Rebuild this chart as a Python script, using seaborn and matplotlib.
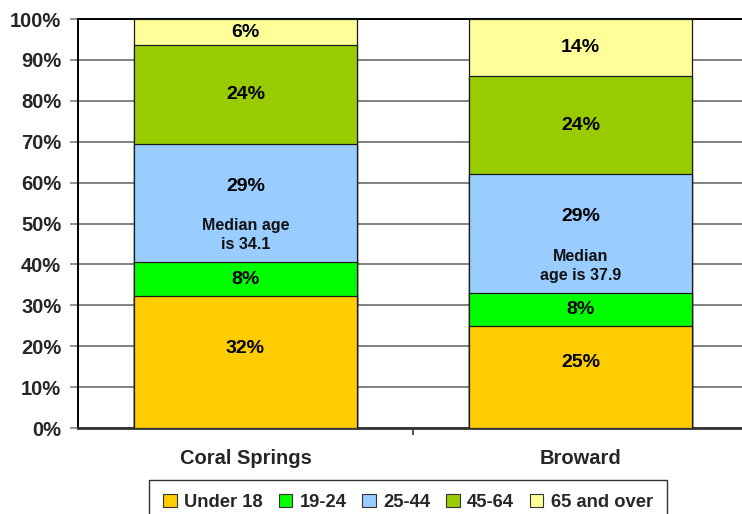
import numpy as np
import pandas as pd
import seaborn as sns
import matplotlib.pyplot as plt
from matplotlib.patches import Patch

REGIONS = ["Coral Springs", "Broward"]
AGE_GROUPS = ["Under 18", "19-24", "25-44", "45-64", "65 and over"]
CORAL_SPRINGS = [32.2, 8.3, 29.0, 24.1, 6.4]
BROWARD = [25.0, 7.9, 29.1, 24.0, 14.0]
MEDIAN_NOTES = ["Median age\nis 34.1", "Median\nage is 37.9"]
COLORS = ["#FFCC00", "#00FF00", "#99CCFF", "#99CC00", "#FFFF99"]

df = pd.DataFrame({"region": REGIONS})
for i, g in enumerate(AGE_GROUPS):
    df[g] = [CORAL_SPRINGS[i], BROWARD[i]]
cum = df[AGE_GROUPS].cumsum(axis=1)

sns.set_theme(style="white")
plt.rcParams["font.family"] = ["Liberation Sans", "DejaVu Sans"]
plt.rcParams["font.weight"] = "bold"

fig = plt.figure(figsize=(7.42, 5.14), dpi=100)
ax = fig.add_axes([0.1051, 0.1673, 0.903, 0.7957])

# stack by drawing cumulative totals from the top down
for i in range(len(AGE_GROUPS) - 1, -1, -1):
    sns.barplot(data=cum.assign(region=df["region"]), x="region", y=AGE_GROUPS[i],
                color=COLORS[i], saturation=1, edgecolor="#1a1a1a", linewidth=0.9,
                width=0.667, errorbar=None, ax=ax, zorder=3)

ax.set_xlim(-0.5, 1.5)
ax.set_ylim(0, 100)
ax.set_yticks(np.arange(0, 101, 10))
ax.set_yticklabels([f"{t}%" for t in range(0, 101, 10)], fontsize=14.5, fontweight="bold")
ax.set_xticks([0, 1])
ax.set_xticklabels(REGIONS, fontsize=14.5, fontweight="bold")
ax.set_xticks([0.5], minor=True)
ax.tick_params(axis="x", which="major", length=0, pad=15)
ax.tick_params(axis="x", which="minor", length=5, width=1.2, color="#333333", direction="out", bottom=True)
ax.tick_params(axis="y", length=6, width=1.2, color="#808080", direction="out", pad=6, left=True)
ax.set_xlabel("")
ax.set_ylabel("")
ax.yaxis.grid(True, color="#777777", linewidth=1.3, zorder=0)
ax.set_axisbelow(True)
for s in ["left", "bottom", "top", "right"]:
    ax.spines[s].set_color("black")
    ax.spines[s].set_linewidth(1.4)
ax.spines["bottom"].set_color("#333333")
ax.spines["bottom"].set_linewidth(2)

# segment labels
px = 0.72
for j, region in enumerate(REGIONS):
    vals = df.loc[j, AGE_GROUPS].values.astype(float)
    tops = cum.loc[j, AGE_GROUPS].values.astype(float)
    for i, v in enumerate(vals):
        mid = tops[i] - v / 2
        dy = 0
        if i == 0:
            dy = 14
        if i == 2:
            dy = 17
        ax.annotate(f"{round(v)}%", (j, mid), xytext=(0, dy * px), textcoords="offset points",
                    ha="center", va="center", fontsize=14, fontweight="bold", color="black", zorder=5)
        if i == 2:
            ax.annotate(MEDIAN_NOTES[j], (j, mid), xytext=(0, -32 * px), textcoords="offset points",
                        ha="center", va="center", multialignment="center", fontsize=11.5,
                        fontweight="bold", color="#111111", linespacing=1.3, zorder=5)

handles = [Patch(facecolor=c, edgecolor="#333333", linewidth=0.8) for c in COLORS]
leg = fig.legend(handles, AGE_GROUPS, loc="upper center", bbox_to_anchor=(408 / 742, 1 - 480 / 514),
                 ncol=5, fontsize=13.2, frameon=True, fancybox=False, edgecolor="black",
                 handlelength=0.75, handleheight=0.75, handletextpad=0.4, columnspacing=0.85,
                 borderpad=0.75, borderaxespad=0)
leg.get_frame().set_linewidth(1.0)
for t in leg.get_texts():
    t.set_fontweight("bold")

fig.savefig("out.png", dpi=100)
